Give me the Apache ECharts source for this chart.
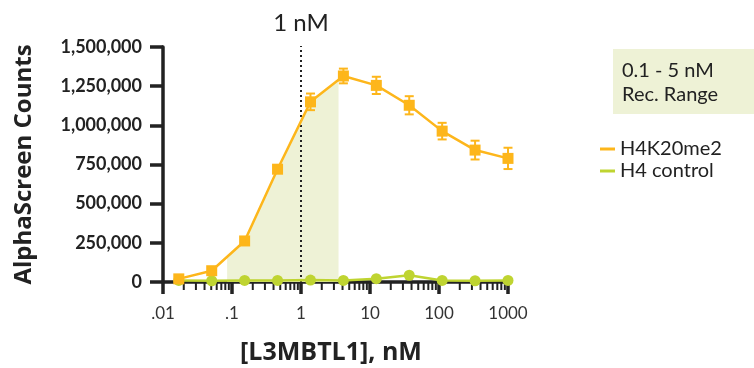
<!DOCTYPE html>
<html>
<head>
<meta charset="utf-8">
<script src="https://cdn.jsdelivr.net/npm/echarts@6/dist/echarts.min.js"></script>
<style>
  html, body { margin: 0; padding: 0; background: #ffffff; }
  #chart { width: 754px; height: 368px; }
</style>
</head>
<body>
<div id="chart"></div>
<script>
// ---- data ----
const concentrations = [0.01694, 0.0508, 0.1524, 0.4572, 1.372, 4.115, 12.35, 37.04, 111.1, 333.3, 1000];
const h4k20me2 = [20000, 72000, 262000, 720000, 1150000, 1315000, 1255000, 1128000, 963000, 842000, 789000];
const h4k20me2Err = [5000, 8000, 15000, 20000, 53000, 47000, 55000, 58000, 53000, 60000, 68000];
const h4control = [10000, 8000, 10000, 10000, 12000, 10000, 21000, 43000, 10000, 8000, 10000];
const shadeRange = [0.085, 3.5];
const markerConc = 1;
const markerTop = 1530000;
const xTickLabels = ['.01', '.1', '1', '10', '100', '1000'];
const yTickValues = [0, 250000, 500000, 750000, 1000000, 1250000, 1500000];

const ORANGE = '#FDB61B';
const GREEN = '#BFD431';
const SHADE = '#EEF2D6';
const INK = '#222222';
const FONT = 'Lato';
const TITLE_FONT = 'Open Sans';

// shaded polygon under the curve, interpolated in log-x space from the data
function interp(xv) {
  const lx = Math.log10(xv);
  for (let i = 0; i < concentrations.length - 1; i++) {
    const a = Math.log10(concentrations[i]), b = Math.log10(concentrations[i + 1]);
    if (lx >= a && lx <= b) {
      const t = (lx - a) / (b - a);
      return h4k20me2[i] + t * (h4k20me2[i + 1] - h4k20me2[i]);
    }
  }
  return 0;
}
const shadeData = [[shadeRange[0], interp(shadeRange[0])]];
concentrations.forEach((c, i) => {
  if (c > shadeRange[0] && c < shadeRange[1]) shadeData.push([c, h4k20me2[i]]);
});
shadeData.push([shadeRange[1], interp(shadeRange[1])]);

// minor log ticks
const minorTicks = [];
for (let e = -2; e <= 2; e++) for (let m = 2; m <= 9; m++) minorTicks.push([m * Math.pow(10, e), 0]);

const errData = concentrations.map((c, i) => [c, h4k20me2[i] - h4k20me2Err[i], h4k20me2[i] + h4k20me2Err[i]]);

const chart = echarts.init(document.getElementById('chart'));
chart.setOption({
  animation: false,
  grid: { left: 163, right: 246, top: 47, bottom: 86, containLabel: false, outerBoundsMode: 'none' },
  xAxis: {
    type: 'log', logBase: 10, min: 0.01, max: 1000,
    name: '[L3MBTL1], nM', nameLocation: 'middle', nameGap: 58,
    nameTextStyle: { fontFamily: TITLE_FONT, fontWeight: 'bold', fontSize: 25, color: INK, padding: [0, 9, 0, 0] },
    axisLine: { show: true, lineStyle: { color: INK, width: 3.5 } },
    axisTick: { show: true, length: 12, lineStyle: { color: INK, width: 3.5 } },
    axisLabel: {
      fontFamily: FONT, fontSize: 17, color: '#333', margin: 23,
      formatter: v => xTickLabels[Math.round(Math.log10(v)) + 2]
    },
    splitLine: { show: false }
  },
  yAxis: {
    type: 'value', min: 0, max: 1500000, interval: 250000,
    name: 'AlphaScreen Counts', nameLocation: 'middle', nameGap: 127, nameRotate: 90,
    nameTextStyle: { fontFamily: TITLE_FONT, fontWeight: 'bold', fontSize: 24, color: INK },
    axisLine: { show: true, lineStyle: { color: INK, width: 3.5 } },
    axisTick: { show: true, length: 13, lineStyle: { color: INK, width: 3.5 } },
    axisLabel: {
      fontFamily: FONT, fontWeight: 'bold', fontSize: 18, color: INK, margin: 21,
      formatter: v => yTickValues.indexOf(v) >= 0 ? v.toLocaleString('en-US') : ''
    },
    splitLine: { show: false }
  },
  legend: {
    left: 595, top: 134, orient: 'vertical', itemGap: 2,
    icon: 'rect', itemWidth: 15, itemHeight: 3,
    textStyle: { fontFamily: FONT, fontSize: 20, color: INK },
    data: ['H4K20me2', 'H4 control']
  },
  graphic: [
    { type: 'rect', left: 613, top: 49, shape: { width: 141, height: 65 }, style: { fill: SHADE } },
    { type: 'text', left: 622, top: 59, style: { text: '0.1 - 5 nM\nRec. Range', font: '20px Lato', fill: INK, lineHeight: 24 } }
  ],
  series: [
    {
      name: 'shade', type: 'line', data: shadeData, symbol: 'none', silent: true, z: 1,
      lineStyle: { width: 0 }, areaStyle: { color: SHADE, opacity: 1 }
    },
    {
      name: 'marker', type: 'line', silent: true, z: 2,
      data: [[markerConc, 0], [markerConc, markerTop]],
      symbol: 'none',
      lineStyle: { color: INK, type: [2, 3], width: 2 }
    },
    {
      name: 'minorTicks', type: 'custom', data: minorTicks, silent: true, clip: false, z: 1,
      renderItem: (params, api) => {
        const p = api.coord([api.value(0), 0]);
        return { type: 'line', shape: { x1: p[0], y1: p[1], x2: p[0], y2: p[1] + 8 }, style: { stroke: INK, lineWidth: 2 } };
      }
    },
    {
      name: 'markerLabel', type: 'custom', data: [[markerConc, markerTop]], silent: true, clip: false, z: 2,
      renderItem: (params, api) => {
        const p = api.coord([api.value(0), api.value(1)]);
        return { type: 'text', x: p[0], y: p[1] - 7,
          style: { text: '1 nM', font: '24px Lato', fill: INK, align: 'center', verticalAlign: 'bottom' } };
      }
    },
    {
      name: 'H4 control', type: 'line', data: concentrations.map((c, i) => [c, h4control[i]]),
      symbol: 'circle', symbolSize: 11, z: 3,
      itemStyle: { color: GREEN }, lineStyle: { color: GREEN, width: 2.5 }
    },
    {
      name: 'H4K20me2', type: 'line', data: concentrations.map((c, i) => [c, h4k20me2[i]]),
      symbol: 'rect', symbolSize: 11, z: 4,
      itemStyle: { color: ORANGE }, lineStyle: { color: ORANGE, width: 2.5 }
    },
    {
      name: 'errors', type: 'custom', data: errData, silent: true, z: 5,
      renderItem: (params, api) => {
        const lo = api.coord([api.value(0), api.value(1)]);
        const hi = api.coord([api.value(0), api.value(2)]);
        const x = lo[0], w = 4.5;
        const st = { stroke: ORANGE, lineWidth: 2 };
        return { type: 'group', children: [
          { type: 'line', shape: { x1: x, y1: lo[1], x2: x, y2: hi[1] }, style: st },
          { type: 'line', shape: { x1: x - w, y1: lo[1], x2: x + w, y2: lo[1] }, style: st },
          { type: 'line', shape: { x1: x - w, y1: hi[1], x2: x + w, y2: hi[1] }, style: st }
        ] };
      }
    }
  ]
});
</script>
</body>
</html>
